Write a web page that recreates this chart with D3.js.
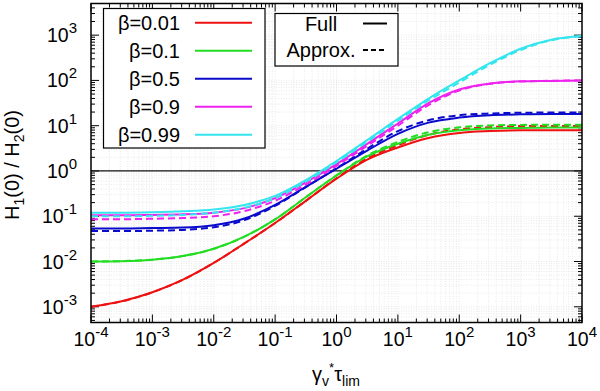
<!DOCTYPE html>
<html>
<head>
<meta charset="utf-8">
<script src="https://cdn.jsdelivr.net/npm/d3@7"></script>
<style>
  body { margin: 0; background: #fff; }
  text { font-family: "Liberation Sans", Arial, sans-serif; fill: #000; }
</style>
</head>
<body>
<div id="chart"></div>
<script>
// x samples (gamma_v* tau_lim), half decades
var xVals = [1e-4, 3.16e-4, 1e-3, 3.16e-3, 1e-2, 3.16e-2, 1e-1, 3.16e-1, 1, 3.16, 10, 31.6, 100, 316, 1000, 3160, 10000];

var betas = ["0.01", "0.1", "0.5", "0.9", "0.99"];
var colors = ["#ee1111", "#22dd22", "#0a0acc", "#ee22ee", "#33e6ee"];

// H1(0)/H2(0), full solution
var full001 = [0.001, 0.00132, 0.00209, 0.00398, 0.00933, 0.0251, 0.0708, 0.219, 0.676, 1.78, 3.31, 5.37, 6.92, 7.59, 7.94, 7.94, 7.94];
var full01  = [0.01, 0.0102, 0.011, 0.0132, 0.0191, 0.0355, 0.0851, 0.263, 0.794, 2.09, 3.98, 6.31, 7.94, 8.71, 8.91, 9.1, 9.1];
var full05  = [0.0537, 0.0537, 0.055, 0.0562, 0.0631, 0.0891, 0.178, 0.447, 1.12, 2.82, 6.61, 11.7, 15.1, 17.0, 17.8, 18.2, 18.2];
var full09  = [0.105, 0.105, 0.107, 0.11, 0.12, 0.151, 0.251, 0.562, 1.41, 3.98, 11.2, 31.6, 63.1, 85.1, 95.5, 97.7, 100];
var full099 = [0.12, 0.12, 0.123, 0.129, 0.141, 0.178, 0.282, 0.631, 1.66, 4.79, 14.1, 39.8, 100, 240, 501, 794, 955];

// approximation
var appr001 = [0.001, 0.00132, 0.00209, 0.00398, 0.00933, 0.0251, 0.0708, 0.219, 0.69, 1.9, 3.7, 6.3, 8.3, 9.3, 9.8, 9.9, 9.9];
var appr01  = [0.01, 0.0102, 0.011, 0.0132, 0.0191, 0.0355, 0.0851, 0.263, 0.8, 2.2, 4.4, 7.2, 9.2, 10.1, 10.4, 10.5, 10.5];
var appr05  = [0.047, 0.047, 0.048, 0.05, 0.057, 0.082, 0.17, 0.44, 1.15, 3.1, 7.6, 13.2, 17.0, 18.6, 19.3, 19.5, 19.5];
var appr09  = [0.086, 0.086, 0.088, 0.091, 0.1, 0.13, 0.22, 0.5, 1.3, 3.6, 10.0, 28.5, 60, 84, 95, 98, 100];
var appr099 = [0.1, 0.1, 0.102, 0.107, 0.12, 0.155, 0.25, 0.58, 1.55, 4.4, 12.9, 36, 90, 220, 470, 770, 950];

var fullSeries = [full001, full01, full05, full09, full099];
var apprSeries = [appr001, appr01, appr05, appr09, appr099];

var xMajor = [-4, -3, -2, -1, 0, 1, 2, 3, 4];
var yMajor = [-3, -2, -1, 0, 1, 2, 3];

var margin = {top: 3.5, right: 18, bottom: 68.5, left: 91},
    width = 600 - margin.left - margin.right,
    height = 391 - margin.top - margin.bottom;

var svgRoot = d3.select("#chart")
  .append("svg")
    .attr("width", 600)
    .attr("height", 391);

var svg = svgRoot.append("g")
    .attr("transform", "translate(" + margin.left + "," + margin.top + ")");

var x = d3.scaleLog().domain([1e-4, 1e4]).range([0, width]);
var y = d3.scaleLog().domain([4.5e-4, 5e3]).range([height, 0]);

// minor tick values
var xMinor = [], yMinor = [];
for (var d = -4; d < 4; d++) for (var k = 2; k <= 9; k++) xMinor.push(k * Math.pow(10, d));
for (var d = -4; d < 4; d++) for (var k = 2; k <= 9; k++) {
  var v = k * Math.pow(10, d);
  if (v >= 4.5e-4 && v <= 5e3) yMinor.push(v);
}
var xMaj = xMajor.map(function(e){ return Math.pow(10, e); });
var yMaj = yMajor.map(function(e){ return Math.pow(10, e); });

// grid
var grid = svg.append("g").attr("stroke", "#e4e4e4").attr("stroke-width", 0.8).attr("stroke-dasharray", "1,1.5");
grid.selectAll(".gx").data(xMinor.concat(xMaj)).enter().append("line")
  .attr("x1", function(d){ return x(d); }).attr("x2", function(d){ return x(d); })
  .attr("y1", 0).attr("y2", height);
grid.selectAll(".gy").data(yMinor.concat(yMaj)).enter().append("line")
  .attr("y1", function(d){ return y(d); }).attr("y2", function(d){ return y(d); })
  .attr("x1", 0).attr("x2", width);

// ticks on all four sides, pointing inwards
var ticks = svg.append("g").attr("stroke", "#000").attr("stroke-width", 1);
function tickX(vals, len) {
  vals.forEach(function(v) {
    ticks.append("line").attr("x1", x(v)).attr("x2", x(v)).attr("y1", height).attr("y2", height - len);
    ticks.append("line").attr("x1", x(v)).attr("x2", x(v)).attr("y1", 0).attr("y2", len);
  });
}
function tickY(vals, len) {
  vals.forEach(function(v) {
    ticks.append("line").attr("y1", y(v)).attr("y2", y(v)).attr("x1", 0).attr("x2", len);
    ticks.append("line").attr("y1", y(v)).attr("y2", y(v)).attr("x1", width).attr("x2", width - len);
  });
}
tickX(xMinor, 4); tickX(xMaj, 8);
tickY(yMinor, 4); tickY(yMaj, 8);

// y = 1 reference line
svg.append("line")
  .attr("x1", 0).attr("x2", width)
  .attr("y1", y(1)).attr("y2", y(1))
  .attr("stroke", "#111").attr("stroke-width", 1.3);

// curves
var line = d3.line()
  .x(function(d){ return x(d[0]); })
  .y(function(d){ return y(d[1]); })
  .curve(d3.curveMonotoneX);

var curves = svg.append("g");
for (var i = 0; i < betas.length; i++) {
  curves.append("path")
    .datum(xVals.map(function(xv, j){ return [xv, fullSeries[i][j]]; }))
    .attr("d", line)
    .attr("fill", "none")
    .attr("stroke", colors[i])
    .attr("stroke-width", 2);
  curves.append("path")
    .datum(xVals.map(function(xv, j){ return [xv, apprSeries[i][j]]; }))
    .attr("d", line)
    .attr("fill", "none")
    .attr("stroke", colors[i])
    .attr("stroke-width", 2)
    .attr("stroke-dasharray", "7,4");
}

// frame
svg.append("rect")
  .attr("x", 0).attr("y", 0).attr("width", width).attr("height", height)
  .attr("fill", "none").attr("stroke", "#000").attr("stroke-width", 1.5);

// tick labels
xMajor.forEach(function(e) {
  var t = svg.append("text")
    .attr("x", x(Math.pow(10, e)))
    .attr("y", height + 23)
    .attr("text-anchor", "middle")
    .style("font-size", "19.5px");
  t.append("tspan").text("10");
  t.append("tspan").attr("dy", -9).style("font-size", "15px").text(e);
});
yMajor.forEach(function(e) {
  var t = svg.append("text")
    .attr("x", -14)
    .attr("y", y(Math.pow(10, e)) + 7)
    .attr("text-anchor", "end")
    .style("font-size", "19.5px");
  t.append("tspan").text("10");
  t.append("tspan").attr("dy", -9).style("font-size", "15px").text(e);
});

// axis titles
var xl = svgRoot.append("text")
  .attr("x", 336).attr("y", 381)
  .attr("text-anchor", "middle")
  .style("font-size", "20px");
xl.append("tspan").text("\u03b3");
xl.append("tspan").attr("dy", 5).style("font-size", "14px").text("v");
xl.append("tspan").attr("dx", 0).attr("dy", -14).style("font-size", "13px").text("*");
xl.append("tspan").attr("dy", 9).text("\u03c4");
xl.append("tspan").attr("dy", 5).style("font-size", "14px").text("lim");

var yl = svgRoot.append("text")
  .attr("transform", "translate(19,165) rotate(-90)")
  .attr("text-anchor", "middle")
  .style("font-size", "20px");
yl.append("tspan").text("H");
yl.append("tspan").attr("dy", 5).style("font-size", "14px").text("1");
yl.append("tspan").attr("dy", -5).text("(0) / H");
yl.append("tspan").attr("dy", 5).style("font-size", "14px").text("2");
yl.append("tspan").attr("dy", -5).text("(0)");

// legend for beta
var leg = svgRoot.append("g");
leg.append("rect")
  .attr("x", 103.5).attr("y", 8.5).attr("width", 161.5).attr("height", 139.5)
  .attr("fill", "#fff").attr("stroke", "#000").attr("stroke-width", 1.2);
betas.forEach(function(b, i) {
  var ry = 22.7 + 28 * i;
  leg.append("text")
    .attr("x", 180).attr("y", ry + 7)
    .attr("text-anchor", "end")
    .style("font-size", "20px")
    .text("\u03b2=" + b);
  leg.append("line")
    .attr("x1", 195).attr("x2", 252)
    .attr("y1", ry).attr("y2", ry)
    .attr("stroke", colors[i]).attr("stroke-width", 2);
});

// legend for line style
var leg2 = svgRoot.append("g");
leg2.append("rect")
  .attr("x", 275).attr("y", 13.5).attr("width", 123).attr("height", 52.5)
  .attr("fill", "#fff").attr("stroke", "#000").attr("stroke-width", 1.2);
var styles = [{name: "Full", dash: null}, {name: "Approx.", dash: "5,3"}];
styles.forEach(function(s, i) {
  var ry = 23.5 + 26.5 * i;
  leg2.append("text")
    .attr("x", 321).attr("y", ry + 7)
    .attr("text-anchor", "middle")
    .style("font-size", "20px")
    .text(s.name);
  leg2.append("line")
    .attr("x1", 363).attr("x2", 387)
    .attr("y1", ry).attr("y2", ry)
    .attr("stroke", "#000").attr("stroke-width", 2)
    .attr("stroke-dasharray", s.dash);
});
</script>
</body>
</html>
